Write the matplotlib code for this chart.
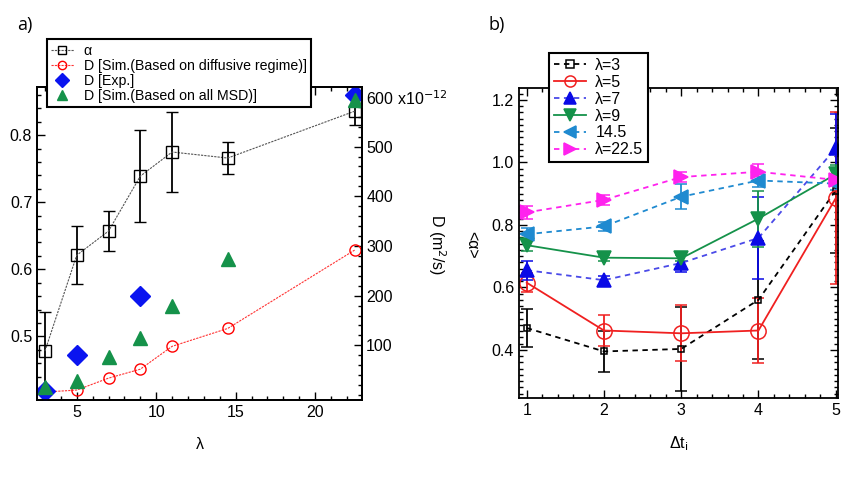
import matplotlib
matplotlib.use('Agg')
import matplotlib.pyplot as plt
from matplotlib.lines import Line2D
from matplotlib.ticker import MultipleLocator, FixedLocator, FixedFormatter

plt.rcParams['font.family'] = ['Liberation Sans', 'DejaVu Sans']

# ---------------- Panel a data ----------------
lam = [3, 5, 7, 9, 11, 14.5, 22.5]
alpha = [0.478, 0.621, 0.657, 0.739, 0.775, 0.766, 0.836]
alpha_err = [0.058, 0.043, 0.030, 0.069, 0.059, 0.024, 0.020]
D_diff = [6, 10, 34, 52, 98, 134, 292]
lam_exp = [3, 5, 9, 22.5]
D_exp = [8, 80, 200, 604]
D_all = [16, 28, 76, 114, 180, 274, 594]
labels_a = ['α', 'D [Sim.(Based on diffusive regime)]', 'D [Exp.]',
            'D [Sim.(Based on all MSD)]']

# ---------------- Panel b data ----------------
dt = [1, 2, 3, 4, 5]
labels_b = ['λ=3', 'λ=5', 'λ=7', 'λ=9', '14.5', 'λ=22.5']
a_l3 = [0.470, 0.395, 0.403, 0.560, 0.910]
e_l3 = [0.060, 0.065, 0.135, 0.190, 0.200]
a_l5 = [0.615, 0.462, 0.453, 0.462, 0.885]
e_l5 = [0.030, 0.050, 0.090, 0.105, 0.275]
a_l7 = [0.655, 0.623, 0.678, 0.758, 1.045]
e_l7 = [0.030, 0.015, 0.030, 0.130, 0.110]
a_l9 = [0.735, 0.695, 0.693, 0.820, 0.962]
e_l9 = [0.020, 0.010, 0.010, 0.090, 0.030]
a_l145 = [0.770, 0.795, 0.890, 0.942, 0.932]
e_l145 = [0.020, 0.015, 0.040, 0.020, 0.020]
a_l225 = [0.840, 0.880, 0.953, 0.970, 0.944]
e_l225 = [0.020, 0.015, 0.015, 0.025, 0.020]

fig = plt.figure(figsize=(8.5, 4.92), dpi=100)

def style_ticks(ax, right=True, top=True):
    ax.tick_params(which='both', direction='in', top=top, right=right,
                   labelsize=11.5, width=1.0, colors='black')
    ax.tick_params(which='major', length=6)
    ax.tick_params(which='minor', length=3)
    for s in ax.spines.values():
        s.set_linewidth(1.3)

# ---------------- Panel a ----------------
ax = fig.add_axes([37/850, 1-400/492, 325/850, 313/492])
ax2 = ax.twinx()
ax.set_xlim(2.5, 22.95)
ax.set_ylim(0.405, 0.872)
ax2.set_ylim(-10, 620)

ax.errorbar(lam, alpha, yerr=alpha_err, fmt='s', ls=(0, (2, 1)), color='#555555',
            mfc='none', mec='black', ms=9, mew=1.0, ecolor='black', elinewidth=1.3,
            capsize=4, capthick=1.3, lw=0.8)
ax2.plot(lam, D_diff, ls=(0, (2, 1)), color='#ff3333', lw=0.8, marker='o',
         mfc='none', mec='red', ms=8, mew=1.0)
ax2.plot(lam_exp, D_exp, ls='none', marker='D', color='#0a14f0', ms=10)
ax2.plot(lam, D_all, ls='none', marker='^', color='#15924a', ms=10)

ax.xaxis.set_major_locator(FixedLocator([5, 10, 15, 20]))
ax.xaxis.set_minor_locator(MultipleLocator(1))
ax.yaxis.set_major_locator(FixedLocator([0.5, 0.6, 0.7, 0.8]))
ax.yaxis.set_minor_locator(MultipleLocator(0.02))
style_ticks(ax, right=False, top=True)
ax2.yaxis.set_major_locator(FixedLocator([100, 200, 300, 400, 500, 600]))
ax2.yaxis.set_major_formatter(FixedFormatter(['100', '200', '300', '400', '500',
                                              '600 x10$^{-12}$']))
ax2.yaxis.set_minor_locator(MultipleLocator(20))
style_ticks(ax2, right=True, top=False)
ax2.tick_params(axis='y', which='major', pad=3)
ax.set_xlabel('λ', fontsize=11.5, labelpad=12)

hA = [
    Line2D([], [], ls=(0, (2, 1)), color='#555555', lw=0.8, marker='s', mfc='none',
           mec='black', ms=6, mew=1.0),
    Line2D([], [], ls=(0, (2, 1)), color='#ff3333', lw=0.8, marker='o', mfc='none',
           mec='red', ms=6, mew=1.0),
    Line2D([], [], ls='none', marker='D', color='#0a14f0', ms=7),
    Line2D([], [], ls='none', marker='^', color='#15924a', ms=7),
]
leg = ax2.legend(hA, labels_a, loc='upper left', bbox_to_anchor=(0.03, 1.152),
                 fontsize=10.2, frameon=True, fancybox=False, edgecolor='black',
                 framealpha=1, borderpad=0.3, labelspacing=0.08, handlelength=1.6,
                 handletextpad=0.7, borderaxespad=0)
leg.get_frame().set_linewidth(1.5)
leg.set_zorder(10)

fig.text(437/850, 1-245/492, 'D (m$^2$/s)', rotation=270, ha='center', va='center',
         fontsize=11.5)

# ---------------- Panel b ----------------
bx = fig.add_axes([519/850, 1-398/492, 319/850, 310/492])
bx.set_xlim(0.9, 5.03)
bx.set_ylim(0.246, 1.238)

cfg = [
    (a_l3, e_l3, 'black', 'black', 's', 5, '--', True),
    (a_l5, e_l5, '#f02020', '#f02020', 'o', 11, '-', True),
    (a_l7, e_l7, '#4a4ae8', '#0a0ae6', '^', 10, '--', False),
    (a_l9, e_l9, '#15924a', '#15924a', 'v', 10, '-', False),
    (a_l145, e_l145, '#1f8ad0', '#1f8ad0', '<', 10, '--', False),
    (a_l225, e_l225, '#ff22ee', '#ff22ee', '>', 10, '--', False),
]
hB = []
for (vals, errs, lc, mc, mk, ms, ls, hollow), lab in zip(cfg, labels_b):
    dsh = (3, 2.5) if ls == '--' else (None, None)
    bx.errorbar(dt, vals, yerr=errs, color=lc, ls=ls, lw=1.3, marker=mk, ms=ms,
                mfc='none' if hollow else mc, mec=mc, mew=1.1,
                ecolor=mc, elinewidth=1.3, capsize=4, capthick=1.3, dashes=dsh)
    hB.append(Line2D([], [], color=lc, ls=ls, lw=1.3, marker=mk,
                     ms=6 if mk == 's' else 8,
                     mfc='none' if hollow else mc, mec=mc, mew=1.1, dashes=dsh))

bx.xaxis.set_major_locator(FixedLocator([1, 2, 3, 4, 5]))
bx.xaxis.set_minor_locator(MultipleLocator(0.2))
bx.yaxis.set_major_locator(FixedLocator([0.4, 0.6, 0.8, 1.0, 1.2]))
bx.yaxis.set_minor_locator(MultipleLocator(0.02))
bx.yaxis.set_major_formatter(FixedFormatter(['0.4', '0.6', '0.8', '1.0', '1.2']))
style_ticks(bx, right=True, top=True)
bx.set_xlabel('Δt$_{\\rm i}$', fontsize=11.5, labelpad=12)
fig.text(472/850, 1-245/492, '<α>', rotation=270, ha='center', va='center',
         fontsize=11.5)

leg2 = bx.legend(hB, labels_b, loc='upper left', bbox_to_anchor=(0.094, 1.113),
                 fontsize=11.5, frameon=True, fancybox=False, edgecolor='black',
                 framealpha=1, borderpad=0.3, labelspacing=0.12, handlelength=2.0,
                 handletextpad=0.6, borderaxespad=0)
leg2.get_frame().set_linewidth(1.5)

fig.text(17/850, 1-25/492, 'a)', fontsize=13, family=['Open Sans', 'DejaVu Sans'],
         va='center', ha='left')
fig.text(489/850, 1-25/492, 'b)', fontsize=13, family=['Open Sans', 'DejaVu Sans'],
         va='center', ha='left')

fig.savefig('out.png', dpi=100)
